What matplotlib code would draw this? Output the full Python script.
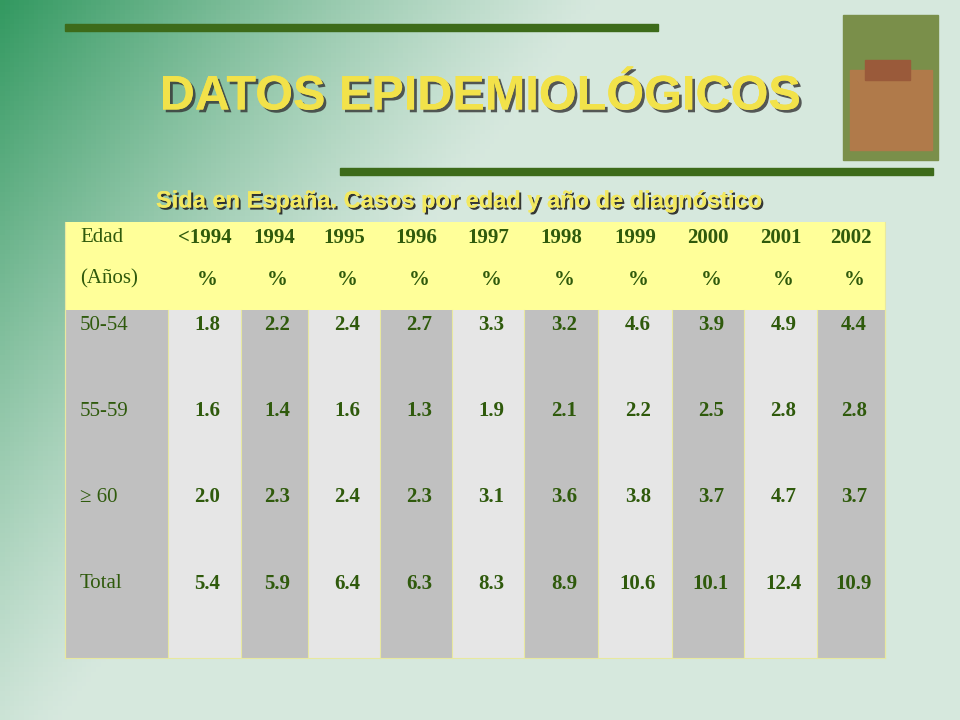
import matplotlib.pyplot as plt
import matplotlib.patheffects as pe
import numpy as np

years = ["<1994", "1994", "1995", "1996", "1997", "1998", "1999", "2000", "2001", "2002"]
age_groups = ["50-54", "55-59", "\u2265 60", "Total"]
values = [
    [1.8, 2.2, 2.4, 2.7, 3.3, 3.2, 4.6, 3.9, 4.9, 4.4],
    [1.6, 1.4, 1.6, 1.3, 1.9, 2.1, 2.2, 2.5, 2.8, 2.8],
    [2.0, 2.3, 2.4, 2.3, 3.1, 3.6, 3.8, 3.7, 4.7, 3.7],
    [5.4, 5.9, 6.4, 6.3, 8.3, 8.9, 10.6, 10.1, 12.4, 10.9],
]

fig = plt.figure(figsize=(9.6, 7.2), dpi=100)
ax = fig.add_axes([0, 0, 1, 1])
ax.set_xlim(0, 960)
ax.set_ylim(720, 0)
ax.axis("off")

# background gradient: green at top-left fading to pale
xx, yy = np.meshgrid(np.linspace(0, 1, 200), np.linspace(0, 1, 150))
t = np.clip(1 - (xx * 1.6 + yy * 0.9), 0, 1) ** 1.2
c0 = np.array([0.84, 0.91, 0.87])
c1 = np.array([0.20, 0.60, 0.38])
img = c0 + (c1 - c0) * t[..., None]
ax.imshow(img, extent=[0, 960, 720, 0], aspect="auto", zorder=0)

# decorative bars
bar = "#3d6b1a"
ax.add_patch(plt.Rectangle((65, 24), 593, 7, color=bar, zorder=1))
ax.add_patch(plt.Rectangle((340, 168), 593, 7, color=bar, zorder=1))

# photo placeholder
ax.add_patch(plt.Rectangle((843, 15), 95, 145, color="#7a8f4a", zorder=1))
ax.add_patch(plt.Rectangle((850, 70), 82, 80, color="#b07a4a", zorder=2))
ax.add_patch(plt.Rectangle((865, 60), 45, 20, color="#9a5a3a", zorder=2))

shadow = [pe.withSimplePatchShadow(offset=(2, -2), shadow_rgbFace="#333333", alpha=0.8), pe.Normal()]
ax.text(480, 97, "DATOS EPIDEMIOL\u00d3GICOS", ha="center", va="center",
        fontsize=35, fontweight="bold", color="#f2e24a", family="Liberation Sans",
        path_effects=shadow, zorder=3)
ax.text(460, 201, "Sida en Espa\u00f1a. Casos por edad y a\u00f1o de diagn\u00f3stico", ha="center",
        va="center", fontsize=17, fontweight="bold", color="#f2e860", family="Liberation Sans",
        path_effects=[pe.withSimplePatchShadow(offset=(1.5, -1.5), shadow_rgbFace="#222222", alpha=0.9), pe.Normal()],
        zorder=3)

# table
edges = [65, 168, 241, 308, 380, 452, 524, 598, 672, 744, 817, 885]
top, head, bottom = 222, 310, 658
ax.add_patch(plt.Rectangle((65, top), 820, head - top, facecolor="#ffff99", edgecolor="none", zorder=2))
for i in range(11):
    col = "#c0c0c0" if i % 2 == 0 else "#e6e6e6"
    ax.add_patch(plt.Rectangle((edges[i], head), edges[i + 1] - edges[i], bottom - head,
                               facecolor=col, edgecolor="none", zorder=2))
for x in edges:
    ax.plot([x, x], [head, bottom], color="#e8e8a0", lw=0.8, zorder=3)
ax.plot([65, 65], [top, bottom], color="#e8e8a0", lw=0.8, zorder=3)
ax.plot([885, 885], [top, bottom], color="#e8e8a0", lw=0.8, zorder=3)
ax.plot([65, 885], [bottom, bottom], color="#e8e8a0", lw=0.8, zorder=3)

serif = "Liberation Serif"
txt = "#2f5a0c"
ax.text(80, 238, "Edad", fontsize=15, family=serif, va="center", color=txt, zorder=4)
ax.text(80, 279, "(A\u00f1os)", fontsize=15, family=serif, va="center", color=txt, zorder=4)
row_y = [325, 411, 497, 584]
for i, y in enumerate(years):
    cx = (edges[i + 1] + edges[i + 2]) / 2
    ax.text(cx, 238, y, fontsize=15, family=serif, ha="center", va="center",
            fontweight="bold", color=txt, zorder=4)
    ax.text(cx + 3, 280, "%", fontsize=15, family=serif, ha="center", va="center",
            fontweight="bold", color=txt, zorder=4)
for r, g in enumerate(age_groups):
    ax.text(80, row_y[r], g, fontsize=15, family=serif, va="center", color=txt, zorder=4)
    for i, v in enumerate(values[r]):
        cx = (edges[i + 1] + edges[i + 2]) / 2
        ax.text(cx + 3, row_y[r], f"{v:.1f}", fontsize=15, family=serif, fontweight="bold",
                ha="center", va="center", color=txt, zorder=4)

fig.savefig("out.png", dpi=100)
